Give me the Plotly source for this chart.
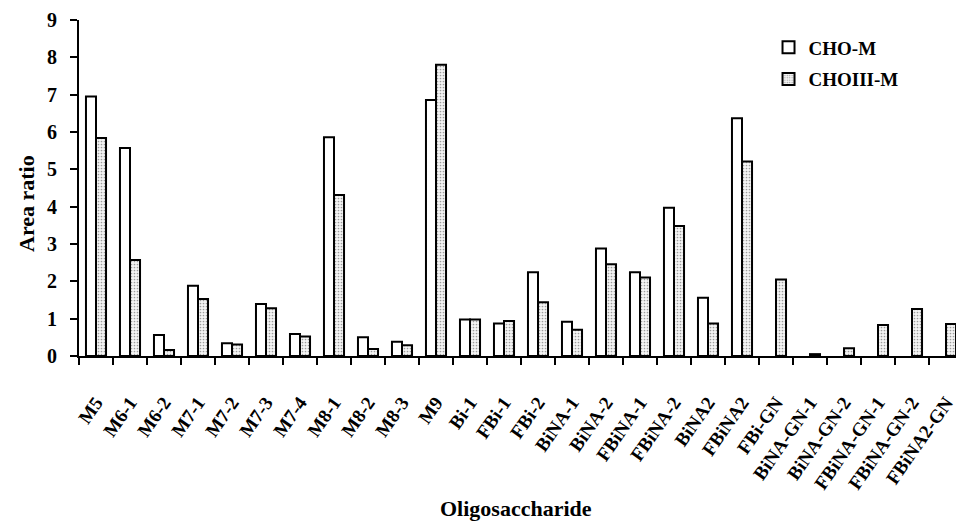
import plotly.graph_objects as go

categories = ["M5", "M6-1", "M6-2", "M7-1", "M7-2", "M7-3", "M7-4", "M8-1", "M8-2", "M8-3",
              "M9", "Bi-1", "FBi-1", "FBi-2", "BiNA-1", "BiNA-2", "FBiNA-1", "FBiNA-2", "BiNA2",
              "FBiNA2", "FBi-GN", "BiNA-GN-1", "BiNA-GN-2", "FBiNA-GN-1", "FBiNA-GN-2", "FBiNA2-GN"]
cho_m = [6.95, 5.57, 0.56, 1.88, 0.34, 1.39, 0.59, 5.86, 0.50, 0.38,
         6.86, 0.98, 0.87, 2.24, 0.92, 2.88, 2.24, 3.97, 1.56,
         6.37, None, None, None, None, None, None]
choiii_m = [5.84, 2.57, 0.16, 1.53, 0.31, 1.28, 0.52, 4.31, 0.19, 0.29,
            7.80, 0.98, 0.94, 1.44, 0.70, 2.46, 2.10, 3.48, 0.87,
            5.21, 2.05, 0.05, 0.21, 0.83, 1.26, 0.86]
y_ticks = [0, 1, 2, 3, 4, 5, 6, 7, 8, 9]

FONT = "Liberation Serif"

fig = go.Figure()
fig.add_trace(go.Bar(
    x=categories, y=cho_m, name="<b>CHO-M</b>", legendgroup="a",
    marker=dict(color="white", line=dict(color="black", width=2)),
))
fig.add_trace(go.Bar(
    x=categories, y=choiii_m, name="<b>CHOIII-M</b>", legendgroup="b",
    marker=dict(color="white", line=dict(color="black", width=2),
                pattern=dict(shape=".", fgcolor="#444444", bgcolor="#f4f4f4",
                             size=3, solidity=0.25)),
))

# page body has an 8px default margin, so the figure is sized 956x514
fig.update_layout(
    width=956, height=514,
    margin=dict(l=71, r=1, t=12, b=166, autoexpand=False),
    plot_bgcolor="white", paper_bgcolor="white",
    barmode="group", bargap=0.41, bargroupgap=0,
    font=dict(family=FONT, color="black"),
    showlegend=True,
    legend=dict(x=0.78, y=0.975, xanchor="left", yanchor="top",
                font=dict(family=FONT, size=19, color="black"),
                bgcolor="rgba(0,0,0,0)", tracegroupgap=4, traceorder="grouped",
                itemsizing="constant"),
    xaxis=dict(
        type="category", showline=True, linecolor="black", linewidth=2,
        ticks="outside", tickson="boundaries", ticklen=7, tickwidth=2, tickcolor="black",
        tickangle=-55, tickfont=dict(family=FONT, size=19, color="black", weight="bold"),
        ticklabelstandoff=26, automargin=False,
        showgrid=False, zeroline=False,
    ),
    yaxis=dict(
        range=[0, 9], tickvals=y_ticks, showline=True, linecolor="black", linewidth=2,
        ticks="outside", ticklen=7, tickwidth=2, tickcolor="black",
        tickfont=dict(family=FONT, size=20, color="black", weight="bold"),
        ticklabelstandoff=9, automargin=False,
        showgrid=False, zeroline=False,
    ),
    annotations=[
        dict(text="<b>Area ratio</b>", xref="paper", yref="paper",
             x=-53 / 884, y=(356 - 204) / 336, xanchor="center", yanchor="middle", textangle=-90,
             showarrow=False, font=dict(family=FONT, size=22, color="black")),
        dict(text="<b>Oligosaccharide</b>", xref="paper", yref="paper",
             x=(516 - 79) / 884, y=-(508 - 356) / 336, xanchor="center", yanchor="middle",
             showarrow=False, font=dict(family=FONT, size=22, color="black")),
    ],
)

fig.write_html("out.html")
